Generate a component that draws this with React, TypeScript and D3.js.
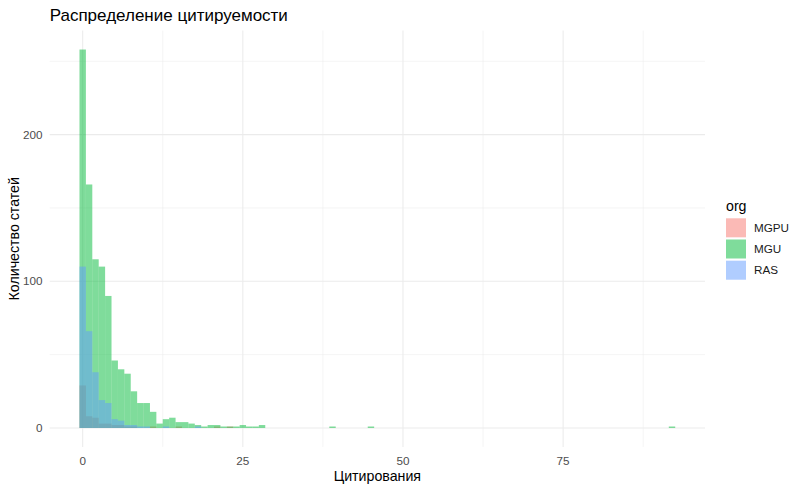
import React from 'react';
import * as d3 from 'd3';

// citation bins (width 1, centred on integers) and counts per organisation
const binsMGPU = [0, 1, 2, 3, 4, 5, 6, 7, 8, 11, 15, 21, 23];
const countsMGPU = [29, 8, 7, 3, 3, 2, 2, 1, 1, 1, 1, 1, 1];

const binsMGU = [0, 1, 2, 3, 4, 5, 6, 7, 8, 9, 10, 11, 12, 13, 14, 15, 16, 17, 18, 19, 20, 21, 22, 23, 24, 25, 26, 27, 28, 39, 45, 92];
const countsMGU = [258, 166, 115, 110, 90, 46, 40, 37, 25, 17, 17, 11, 3, 6, 7, 4, 4, 3, 2, 1, 2, 2, 1, 1, 1, 2, 1, 1, 2, 1, 1, 1];

const binsRAS = [0, 1, 2, 3, 4, 5, 6, 7, 8, 9, 10, 13, 18];
const countsRAS = [110, 66, 38, 19, 17, 6, 5, 2, 2, 1, 1, 1, 1];

const orgs = ['MGPU', 'MGU', 'RAS'];
const orgColors = ['#F8766D', '#00BA38', '#619CFF'];

const xMajor = [0, 25, 50, 75];
const xMinor = [12.5, 37.5, 62.5, 87.5];
const yMajor = [0, 100, 200];
const yMinor = [50, 150, 250];

const W = 800;
const H = 489;
const panel = { left: 49.7, right: 705, top: 30.6, bottom: 446.9 };

export default function App() {
  const series = [
    { org: orgs[0], color: orgColors[0], bins: binsMGPU, counts: countsMGPU },
    { org: orgs[1], color: orgColors[1], bins: binsMGU, counts: countsMGU },
    { org: orgs[2], color: orgColors[2], bins: binsRAS, counts: countsRAS },
  ];

  const allBins = series.flatMap(s => s.bins);
  const xmin = (d3.min(allBins) as number) - 0.5;
  const xmax = (d3.max(allBins) as number) + 0.5;
  const xpad = (xmax - xmin) * 0.05;
  const ymax = d3.max(series.flatMap(s => s.counts)) as number;
  const ypad = ymax * 0.05;

  const x = d3.scaleLinear().domain([xmin - xpad, xmax + xpad]).range([panel.left, panel.right]);
  const y = d3.scaleLinear().domain([-ypad, ymax + ypad]).range([panel.bottom, panel.top]);

  const font = '"Liberation Sans", Arial, sans-serif';
  const grid = '#EBEBEB';

  return (
    <svg width={W} height={H} style={{ position: 'absolute', left: 0, top: 0, background: '#fff' }} fontFamily={font}>
      {/* grid */}
      {yMinor.map(v => (
        <line key={'ym' + v} x1={panel.left} x2={panel.right} y1={y(v)} y2={y(v)} stroke={grid} strokeWidth={0.55} />
      ))}
      {xMinor.map(v => (
        <line key={'xm' + v} x1={x(v)} x2={x(v)} y1={panel.top} y2={panel.bottom} stroke={grid} strokeWidth={0.55} />
      ))}
      {yMajor.map(v => (
        <line key={'yM' + v} x1={panel.left} x2={panel.right} y1={y(v)} y2={y(v)} stroke={grid} strokeWidth={1.07} />
      ))}
      {xMajor.map(v => (
        <line key={'xM' + v} x1={x(v)} x2={x(v)} y1={panel.top} y2={panel.bottom} stroke={grid} strokeWidth={1.07} />
      ))}

      {/* bars */}
      {series.map(s => (
        <g key={s.org} fill={s.color} fillOpacity={0.5}>
          {s.bins.map((b, i) => (
            <rect
              key={b}
              x={x(b - 0.5)}
              width={x(b + 0.5) - x(b - 0.5)}
              y={y(s.counts[i])}
              height={y(0) - y(s.counts[i])}
            />
          ))}
        </g>
      ))}

      {/* axis labels */}
      {yMajor.map(v => (
        <text key={'yl' + v} x={42.5} y={y(v)} dy="0.35em" textAnchor="end" fontSize={11.7} fill="#4D4D4D">{v}</text>
      ))}
      {xMajor.map(v => (
        <text key={'xl' + v} x={x(v)} y={464.5} textAnchor="middle" fontSize={11.7} fill="#4D4D4D">{v}</text>
      ))}

      <text x={(panel.left + panel.right) / 2} y={481} textAnchor="middle" fontSize={14.2} fill="#000">Цитирования</text>
      <text
        transform={`translate(18.5,${(panel.top + panel.bottom) / 2}) rotate(-90)`}
        textAnchor="middle"
        fontSize={14.2}
        fill="#000"
      >
        Количество статей
      </text>

      <text x={panel.left} y={20.7} fontSize={17} fill="#000">Распределение цитируемости</text>

      {/* legend */}
      <text x={726} y={210.5} fontSize={14.2} fill="#000">org</text>
      {series.map((s, i) => (
        <g key={'lg' + s.org} transform={`translate(726,${218.3 + i * 21.2})`}>
          <rect width={20} height={19} fill={s.color} fillOpacity={0.5} />
          <text x={28} y={9.5} dy="0.35em" fontSize={11.7} fill="#1a1a1a">{s.org}</text>
        </g>
      ))}
    </svg>
  );
}
